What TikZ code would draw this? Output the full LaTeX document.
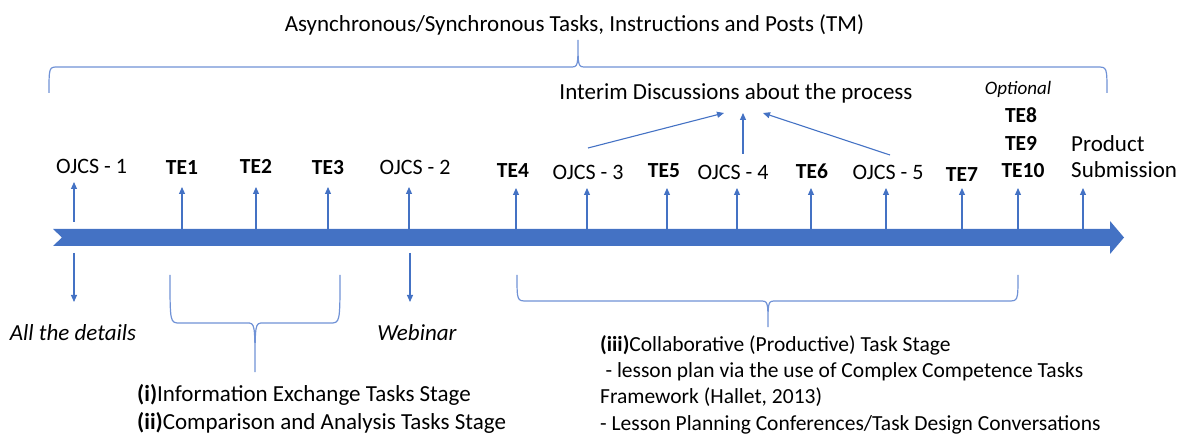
\documentclass[tikz,border=0pt]{standalone}
\usepackage{fontspec}
\setmainfont{Carlito}
\usetikzlibrary{arrows.meta}
\definecolor{barblue}{HTML}{4472C4}
\definecolor{braceblue}{HTML}{7092D6}
\tikzset{
  lbl/.style={inner sep=0pt, anchor=base, font=\fontsize{22}{26}\selectfont},
  big/.style={inner sep=0pt, anchor=base, font=\fontsize{23}{28}\selectfont},
  tebox/.style={inner sep=0pt, anchor=base, font=\fontsize{21.5}{26}\selectfont\bfseries},
  itbox/.style={inner sep=0pt, anchor=base, font=\fontsize{23}{28}\selectfont\itshape},
  up/.style={barblue, line width=1.1pt, -{Triangle[width=6pt,length=7pt]}},
  brace/.style={braceblue, line width=1.2pt},
}
\begin{document}
\begin{tikzpicture}[x=1pt, y=-1pt]
    \useasboundingbox (0,0) rectangle (1177,435);

    % 1. TITOLO E GRAFFA SUPERIORE
    \node[big] (title) at (574.5,32) {Asynchronous/Synchronous Tasks, Instructions and Posts (TM)};
    \coordinate (topTip) at (578,40);
    \draw[brace] (49,93) .. controls (49,67) .. (58,67) -- (570,67)
        .. controls (578,67) .. (topTip) .. controls (578,67) .. (586,67)
        -- (1097,67) .. controls (1107,67) .. (1107,93);

    % 2. BARRA TEMPORALE
    \fill[barblue] (53,229) -- (1110,229) -- (1110,221) -- (1124,237.5) -- (1110,254)
        -- (1110,246) -- (53,246) -- (62,237.5) -- cycle;

    % 3. ETICHETTE SOPRA LA BARRA
    \node[lbl] (ojcs1) at (91.5,174) {OJCS - 1};
    \node[tebox] (te1) at (182,175) {TE1};
    \node[tebox] (te2) at (256,174) {TE2};
    \node[tebox] (te3) at (328,175) {TE3};
    \node[lbl] (ojcs2) at (415,175) {OJCS - 2};
    \node[tebox] (te4) at (513,178) {TE4};
    \node[lbl] (ojcs3) at (588,180) {OJCS - 3};
    \node[tebox] (te5) at (664,178) {TE5};
    \node[lbl] (ojcs4) at (733,180) {OJCS - 4};
    \node[tebox] (te6) at (812,179) {TE6};
    \node[lbl] (ojcs5) at (888,180) {OJCS - 5};
    \node[tebox] (te7) at (962,182) {TE7};
    \node[itbox, font=\fontsize{19}{22}\selectfont\itshape] (optional) at (1018,95) {Optional};
    \node[tebox] (te8) at (1021,123) {TE8};
    \node[tebox] (te9) at (1021,151) {TE9};
    \node[tebox] (te10) at (1023,178) {TE10};
    \node[big, anchor=base west] (product) at (1071,152) {Product};
    \node[big, anchor=base west] (submission) at (1071,178) {Submission};

    % 4. FRECCE VERSO L'ALTO
    \coordinate (a1) at (74,222);
    \coordinate (a2) at (182,229);
    \coordinate (a3) at (256,229);
    \coordinate (a4) at (328,229);
    \coordinate (a5) at (409,229);
    \coordinate (a6) at (516,229);
    \coordinate (a7) at (587,229);
    \coordinate (a8) at (667,229);
    \coordinate (a9) at (737,229);
    \coordinate (a10) at (811,229);
    \coordinate (a11) at (886,229);
    \coordinate (a12) at (962,229);
    \coordinate (a13) at (1018,229);
    \coordinate (a14) at (1083,229);
    \draw[up] (a1) -- ++(0,-40);
    \draw[up] (a2) -- ++(0,-42);
    \draw[up] (a3) -- ++(0,-42);
    \draw[up] (a4) -- ++(0,-42);
    \draw[up] (a5) -- ++(0,-42);
    \draw[up] (a6) -- ++(0,-41);
    \draw[up] (a7) -- ++(0,-41);
    \draw[up] (a8) -- ++(0,-41);
    \draw[up] (a9) -- ++(0,-41);
    \draw[up] (a10) -- ++(0,-41);
    \draw[up] (a11) -- ++(0,-41);
    \draw[up] (a12) -- ++(0,-41);
    \draw[up] (a13) -- ++(0,-41);
    \draw[up] (a14) -- ++(0,-41);

    % 5. DISCUSSIONI INTERMEDIE
    \node[big] (interim) at (736,100) {Interim Discussions about the process};
    \coordinate (sL) at (588,148);
    \coordinate (sM) at (743,154);
    \coordinate (sR) at (890,155);
    \coordinate (iL) at (724,113);
    \coordinate (iM) at (743,113);
    \coordinate (iR) at (763,113);
    \draw[up] (sL) -- (iL);
    \draw[up] (sM) -- (iM);
    \draw[up] (sR) -- (iR);

    % 6. SOTTO LA BARRA
    \node[itbox] (details) at (73,341) {All the details};
    \node[itbox] (webinar) at (417,341) {Webinar};
    \coordinate (d1) at (74,253);
    \coordinate (d2) at (410,253);
    \draw[up] (d1) -- ++(0,49);
    \draw[up] (d2) -- ++(0,49);

    % 7. GRAFFA (i)-(ii)
    \coordinate (tipA) at (255,372);
    \draw[brace] (170,275) .. controls (170,323) .. (180,323) -- (247,323)
        .. controls (255,323) .. (tipA) .. controls (255,323) .. (263,323)
        -- (330,323) .. controls (340,323) .. (340,275);
    % (ancora base = ultima riga)
    \node[big, anchor=base west, align=left] (stageA) at (137,429)
        {\textbf{(i)}Information Exchange Tasks Stage\\\textbf{(ii)}Comparison and Analysis Tasks Stage};

    % 8. GRAFFA (iii)
    \coordinate (tipB) at (768,327);
    \draw[brace] (517,275) .. controls (517,301) .. (527,301) -- (760,301)
        .. controls (768,301) .. (tipB) .. controls (768,301) .. (776,301)
        -- (1008,301) .. controls (1018,301) .. (1018,275);
    \node[inner sep=0pt, anchor=base west, align=left, font=\fontsize{21.5}{26.3}\selectfont] (stageB) at (600,430)
        {\textbf{(iii)}Collaborative (Productive) Task Stage\\
         \hspace{0.25em}- lesson plan via the use of Complex Competence Tasks\\
         Framework (Hallet, 2013)\\
         - Lesson Planning Conferences/Task Design Conversations};

\end{tikzpicture}
\end{document}
